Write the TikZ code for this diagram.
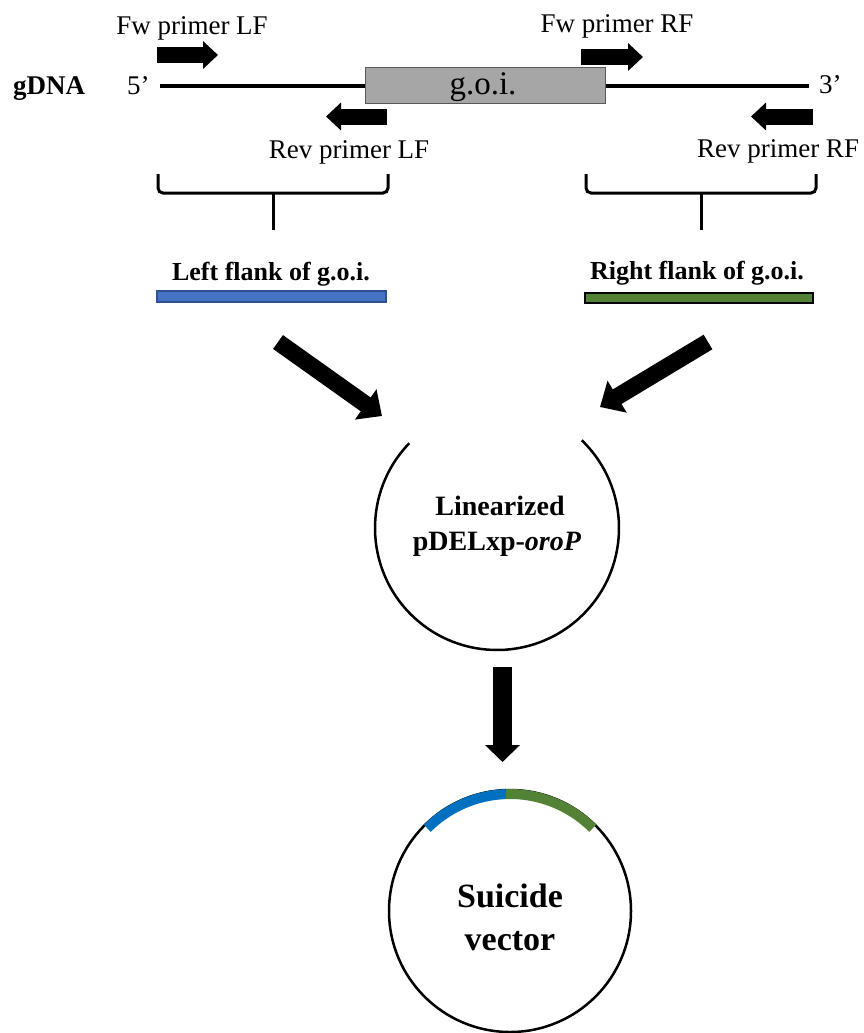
\documentclass[tikz,border=0pt]{standalone}
\usepackage{fontspec}
\setmainfont{Liberation Serif}
\usetikzlibrary{arrows.meta}
\newcommand\fsz[1]{\fontsize{#1}{#1}\selectfont}
\definecolor{goigray}{HTML}{A6A6A6}
\definecolor{goiedge}{HTML}{595959}
\definecolor{lfblue}{HTML}{4472C4}
\definecolor{lfedge}{HTML}{2F528F}
\definecolor{rfgreen}{HTML}{548235}
\definecolor{arcblue}{HTML}{0070C0}
\definecolor{arcgreen}{HTML}{538135}
\begin{document}
\begin{tikzpicture}[x=1pt,y=-1pt,
  lbl/.style={anchor=base, inner sep=0pt, font=\fsz{27}},
  blbl/.style={anchor=base, inner sep=0pt, font=\fsz{26}\bfseries},
  clbl/.style={anchor=base, inner sep=0pt, font=\fsz{28}\bfseries},
  slbl/.style={anchor=base, inner sep=0pt, font=\fsz{34}\bfseries},
  primer/.style={line width=16pt, -{Triangle[width=27pt,length=15pt]}},
  bigarrow/.style={line width=17pt, -{Triangle[width=36pt,length=20pt]}},
  downarrow/.style={line width=19pt, -{Triangle[width=34pt,length=17pt]}},
  brace/.style={line width=3pt, rounded corners=5pt},
  stem/.style={line width=3pt},
  dna/.style={line width=3.5pt},
  ring/.style={line width=2.5pt},
  insert/.style={line width=10pt},
]
\useasboundingbox (0,0) rectangle (864,1033);

% gDNA line and gene of interest
\coordinate (dnaL) at (160,86);
\coordinate (dnaR) at (809,86);
\draw[dna] (dnaL) -- (dnaR);
\node[draw=goiedge, fill=goigray, line width=1pt, minimum width=240pt, minimum height=35pt, inner sep=0pt] (goi) at (485,85.5) {};
\node[anchor=base, inner sep=0pt, font=\fsz{33}] (goitxt) at (483,94) {g.o.i.};
\node[anchor=base west, inner sep=0pt, font=\fsz{27}\bfseries] (gdna) at (13,95) {gDNA};
\node[anchor=base west, inner sep=0pt, font=\fsz{27}] (five) at (127,95) {5’};
\node[anchor=base west, inner sep=0pt, font=\fsz{27}] (three) at (819,93) {3’};

% primers
\coordinate (fwlfS) at (157,55);  \coordinate (fwlfE) at (218,55);
\coordinate (rvlfS) at (387,116.5); \coordinate (rvlfE) at (326,116.5);
\coordinate (fwrfS) at (581,57);  \coordinate (fwrfE) at (643,57);
\coordinate (rvrfS) at (813,116.5); \coordinate (rvrfE) at (751,116.5);
\draw[primer] (fwlfS) -- (fwlfE);
\draw[primer] (rvlfS) -- (rvlfE);
\draw[primer] (fwrfS) -- (fwrfE);
\draw[primer] (rvrfS) -- (rvrfE);
\node[lbl] (fwlf) at (192,35) {Fw primer LF};
\node[lbl] (rvlf) at (349,158) {Rev primer LF};
\node[lbl] (fwrf) at (617,33) {Fw primer RF};
\node[lbl] (rvrf) at (778,157) {Rev primer RF};

% braces
\draw[brace] (158,174) -- (158,193) -- (388,193) -- (388,174);
\draw[stem] (273,192) -- (273,230);
\draw[brace] (586,174) -- (586,193) -- (816,193) -- (816,174);
\draw[stem] (701,192) -- (701,230);

% flanks
\node[blbl] (lftxt) at (271,280) {Left flank of g.o.i.};
\node[blbl] (rftxt) at (697,279) {Right flank of g.o.i.};
\node[draw=lfedge, fill=lfblue, line width=1.5pt, minimum width=229pt, minimum height=11pt, inner sep=0pt] (lfbar) at (271.5,296.5) {};
\node[draw=black, fill=rfgreen, line width=2pt, minimum width=228pt, minimum height=10pt, inner sep=0pt] (rfbar) at (699,298) {};

% arrows to linearized vector
\coordinate (a1s) at (278,342); \coordinate (a1e) at (382,416);
\coordinate (a2s) at (708,342); \coordinate (a2e) at (600,407);
\draw[bigarrow] (a1s) -- (a1e);
\draw[bigarrow] (a2s) -- (a2e);

% linearized vector
\coordinate (lin) at (497,528);
\draw[ring] (lin) ++(-136:122) arc[start angle=-136, end angle=-406, radius=122];
\node[clbl] (lintxt1) at (500,515) {Linearized};
\node[clbl] (lintxt2) at (497,550) {pDELxp-\textit{oroP}};

% down arrow
\coordinate (a3s) at (502.5,667); \coordinate (a3e) at (502.5,762);
\draw[downarrow] (a3s) -- (a3e);

% suicide vector
\coordinate (sui) at (510,911);
\draw[ring] (sui) circle[radius=121];
\draw[insert, arcblue] (sui) ++(-135:117) arc[start angle=-135, end angle=-92, radius=117];
\draw[insert, arcgreen] (sui) ++(-92:117) arc[start angle=-92, end angle=-45, radius=117];
\node[slbl] (suitxt1) at (510,907) {Suicide};
\node[slbl] (suitxt2) at (510,950) {vector};
\end{tikzpicture}
\end{document}
